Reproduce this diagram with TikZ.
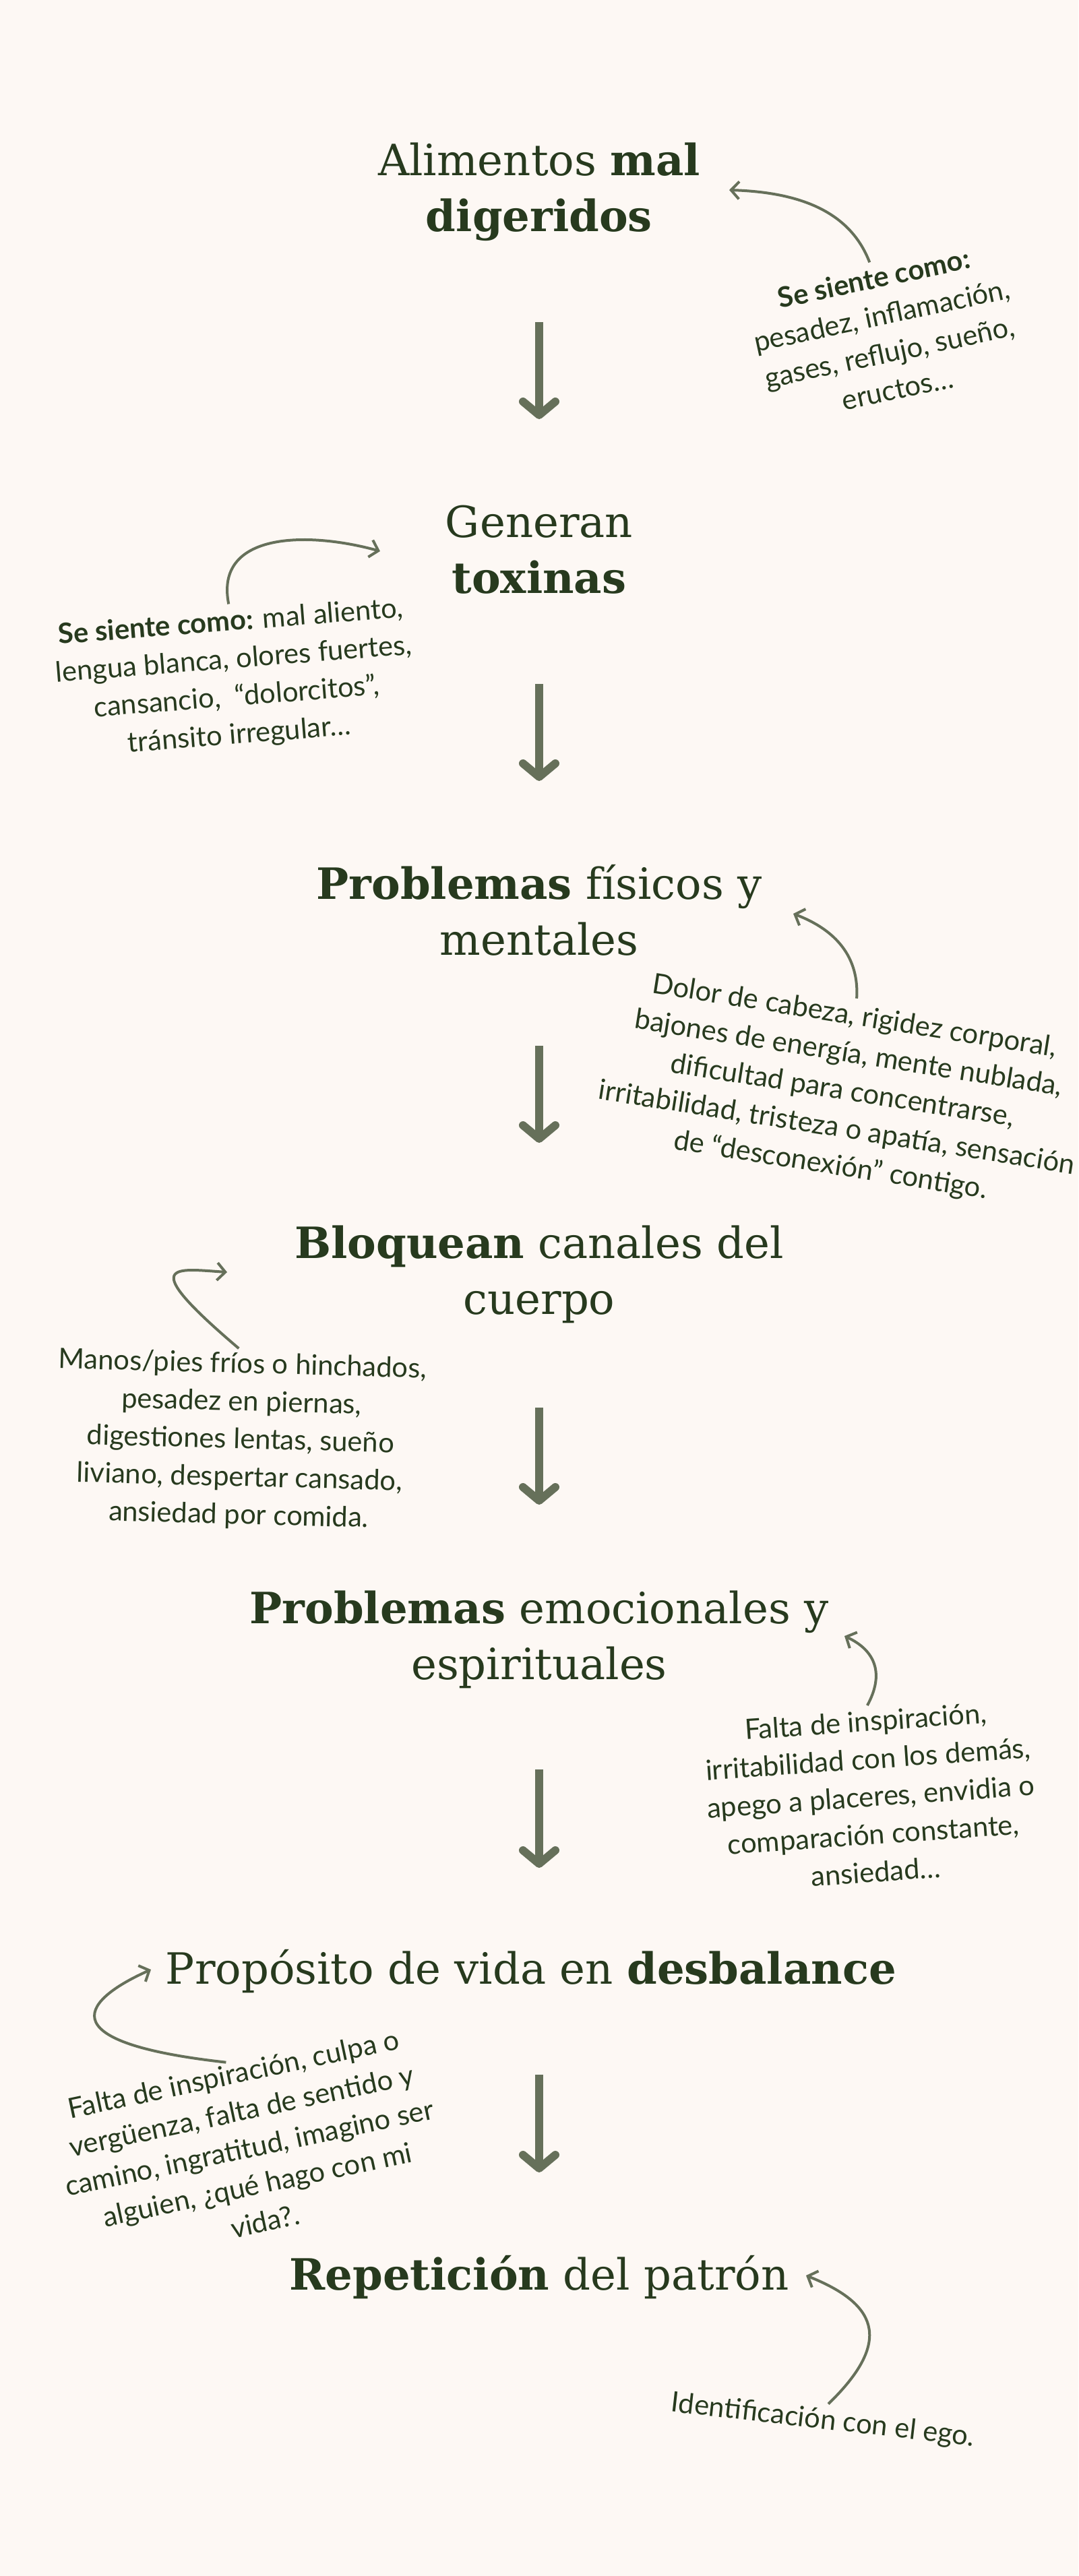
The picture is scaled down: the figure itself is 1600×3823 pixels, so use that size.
\documentclass[tikz,border=0pt]{standalone}
\usepackage{fontspec}
\setmainfont{Lato}
\newfontfamily\headfont{DejaVu Serif}
\usetikzlibrary{arrows.meta}
\definecolor{paper}{HTML}{FDF8F4}
\definecolor{ink}{HTML}{273A1E}
\definecolor{sage}{HTML}{66705A}

\begin{document}
\begin{tikzpicture}[x=0.25pt,y=-0.25pt,
  head/.style = {font=\headfont\fontsize{16}{20.75}\selectfont, text=ink, align=center, inner sep=0pt, anchor=base},
  note/.style = {font=\fontsize{10.4}{14}\selectfont, text=ink, align=center, inner sep=0pt},
  flow/.style = {draw=sage, line width=3pt, -{Straight Barb[length=5pt,width=12pt,round]}},
  hint/.style = {draw=sage, line width=1pt, shorten <=2pt, -{Straight Barb[length=3pt,width=6.5pt]}},]
\useasboundingbox (0,0) rectangle (1600,3823);
\fill[paper] (0,0) rectangle (1600,3823);
% steps (base = last line)
\node (T1) at (800,343)[head] {Alimentos \textbf{mal}\\\textbf{digeridos}};
\node (T2) at (800,880)[head] {Generan\\\textbf{toxinas}};
\node (T3) at (800,1417)[head] {\textbf{Problemas} físicos y\\mentales};
\node (T4) at (800,1950)[head] {\textbf{Bloquean} canales del\\cuerpo};
\node (T5) at (800,2492)[head] {\textbf{Problemas} emocionales y\\espirituales};
\node (T6) at (788,2944)[head] {Propósito de vida en \textbf{desbalance}};
\node (T7) at (800,3398)[head] {\textbf{Repetición} del patrón};
% arrows between steps
\coordinate (a1) at (800,478);  \coordinate (b1) at (800,622);
\coordinate (a2) at (800,1015); \coordinate (b2) at (800,1159);
\coordinate (a3) at (800,1552); \coordinate (b3) at (800,1696);
\coordinate (a4) at (800,2089); \coordinate (b4) at (800,2233);
\coordinate (a5) at (800,2626); \coordinate (b5) at (800,2772);
\coordinate (a6) at (800,3079); \coordinate (b6) at (800,3224);
\draw[flow] (a1)--(b1);
\draw[flow] (a2)--(b2);
\draw[flow] (a3)--(b3);
\draw[flow] (a4)--(b4);
\draw[flow] (a5)--(b5);
\draw[flow] (a6)--(b6);
% notes
\node (N1) at (1314,495)[note,rotate=12] {\textbf{Se siente como:}\\pesadez, inflamación,\\gases, reflujo, sueño,\\eructos…};
\node (N2) at (349,1008)[note,rotate=4.5] {\textbf{Se siente como:} mal aliento,\\lengua blanca, olores fuertes,\\cansancio, \ “dolorcitos”,\\tránsito irregular…};
\node (N3) at (1250,1620)[note,rotate=-9] {Dolor de cabeza, rigidez corporal,\\bajones de energía, mente nublada,\\dificultad para concentrarse,\\irritabilidad, tristeza o apatía, sensación\\de “desconexión” contigo.};
\node (N4) at (357,2138)[note,rotate=-1.5] {Manos/pies fríos o hinchados,\\pesadez en piernas,\\digestiones lentas, sueño\\liviano, despertar cansado,\\ansiedad por comida.};
\node (N5) at (1292,2666)[note,rotate=4] {Falta de inspiración,\\irritabilidad con los demás,\\apego a placeres, envidia o\\comparación constante,\\ansiedad…};
\node (N6) at (370,3187)[note,rotate=12] {Falta de inspiración, culpa o\\vergüenza, falta de sentido y\\camino, ingratitud, imagino ser\\alguien, ¿qué hago con mi\\vida?.};
\node (N7) at (1221,3593)[note,rotate=-6.5] {Identificación con el ego.};
% curved pointers
\coordinate (h1) at (1082,282);
\coordinate (h2) at (564,818);
\coordinate (h3) at (1177,1356);
\coordinate (h4) at (337,1888);
\coordinate (h5) at (1253,2428);
\coordinate (h6) at (224,2923);
\coordinate (h7) at (1196,3377);
\draw[hint] (N1.north) .. controls (1260,310) and (1180,285) .. (h1);
\draw[hint] (N2.north) .. controls (318,790) and (455,788) .. (h2);
\draw[hint] (N3.north) .. controls (1275,1420) and (1240,1380) .. (h3);
\draw[hint] (N4.north) .. controls (200,1870) and (260,1883) .. (h4);
\draw[hint] (N5.north) .. controls (1312,2485) and (1300,2450) .. (h5);
\draw[hint] (N6.north) .. controls (60,3030) and (130,2965) .. (h6);
\draw[hint] (N7.north) .. controls (1330,3470) and (1296,3417) .. (h7);
\end{tikzpicture}
\end{document}
